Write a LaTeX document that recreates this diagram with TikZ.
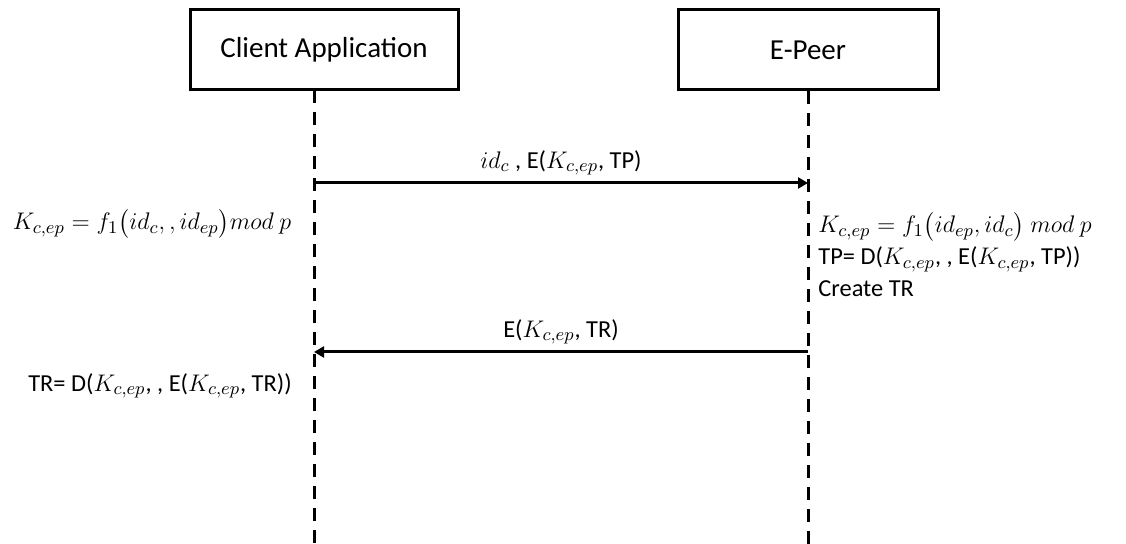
\documentclass[tikz,border=0pt]{standalone}
\usepackage{amsmath}
\usepackage{fontspec}
\setmainfont{Carlito}
\usetikzlibrary{arrows.meta,positioning}

\begin{document}
\begin{tikzpicture}[x=0.5pt, y=-0.5pt,
    actor/.style={draw, line width=1.5pt, minimum height=40pt, font=\fontsize{14.5}{17}\selectfont},
    lifeline/.style={line width=1.5pt, dash pattern=on 6.5pt off 4.5pt},
    msg/.style={line width=1.5pt, -{Triangle[length=5pt,width=5.5pt]}},
    note/.style={inner sep=0pt, font=\fontsize{12.2}{16}\selectfont}]
    \useasboundingbox (0,0) rectangle (1126,544);

    \node[actor, minimum width=134pt] (client) at (324,50) {Client Application};
    \node[actor, minimum width=130pt] (epeer) at (808,50) {E-Peer};

    \coordinate (clienttop) at (314,90);
    \coordinate (clientend) at (314,544);
    \coordinate (epeerend) at (808,544);
    \draw[lifeline] (clienttop) -- (clientend);
    \draw[lifeline] (epeer.south) -- (epeerend);

    \coordinate (req1) at (314,183);
    \coordinate (req2) at (808,183);
    \coordinate (res1) at (808,352);
    \coordinate (res2) at (314,352);

    \draw[msg] (req1) -- node[above=3pt, note] {$id_c$ , E($K_{c,ep}$, TP)} (req2);
    \draw[msg] (res1) -- node[above=3pt, note] {E($K_{c,ep}$, TR)} (res2);

    \node[note] (clientkey) at (152,224) {$K_{c,ep}=f_1\big(id_c,,id_{ep}\big)mod\ p$};
    \node[note, anchor=north west, align=left] (epeercalc) at (818,212)
        {$K_{c,ep}=f_1\big(id_{ep},id_c\big)\ mod\ p$\\
         TP= D($K_{c,ep}$, , E($K_{c,ep}$, TP))\\
         Create TR};
    \node[note] (clientdec) at (160,386) {TR= D($K_{c,ep}$, , E($K_{c,ep}$, TR))};
\end{tikzpicture}
\end{document}
